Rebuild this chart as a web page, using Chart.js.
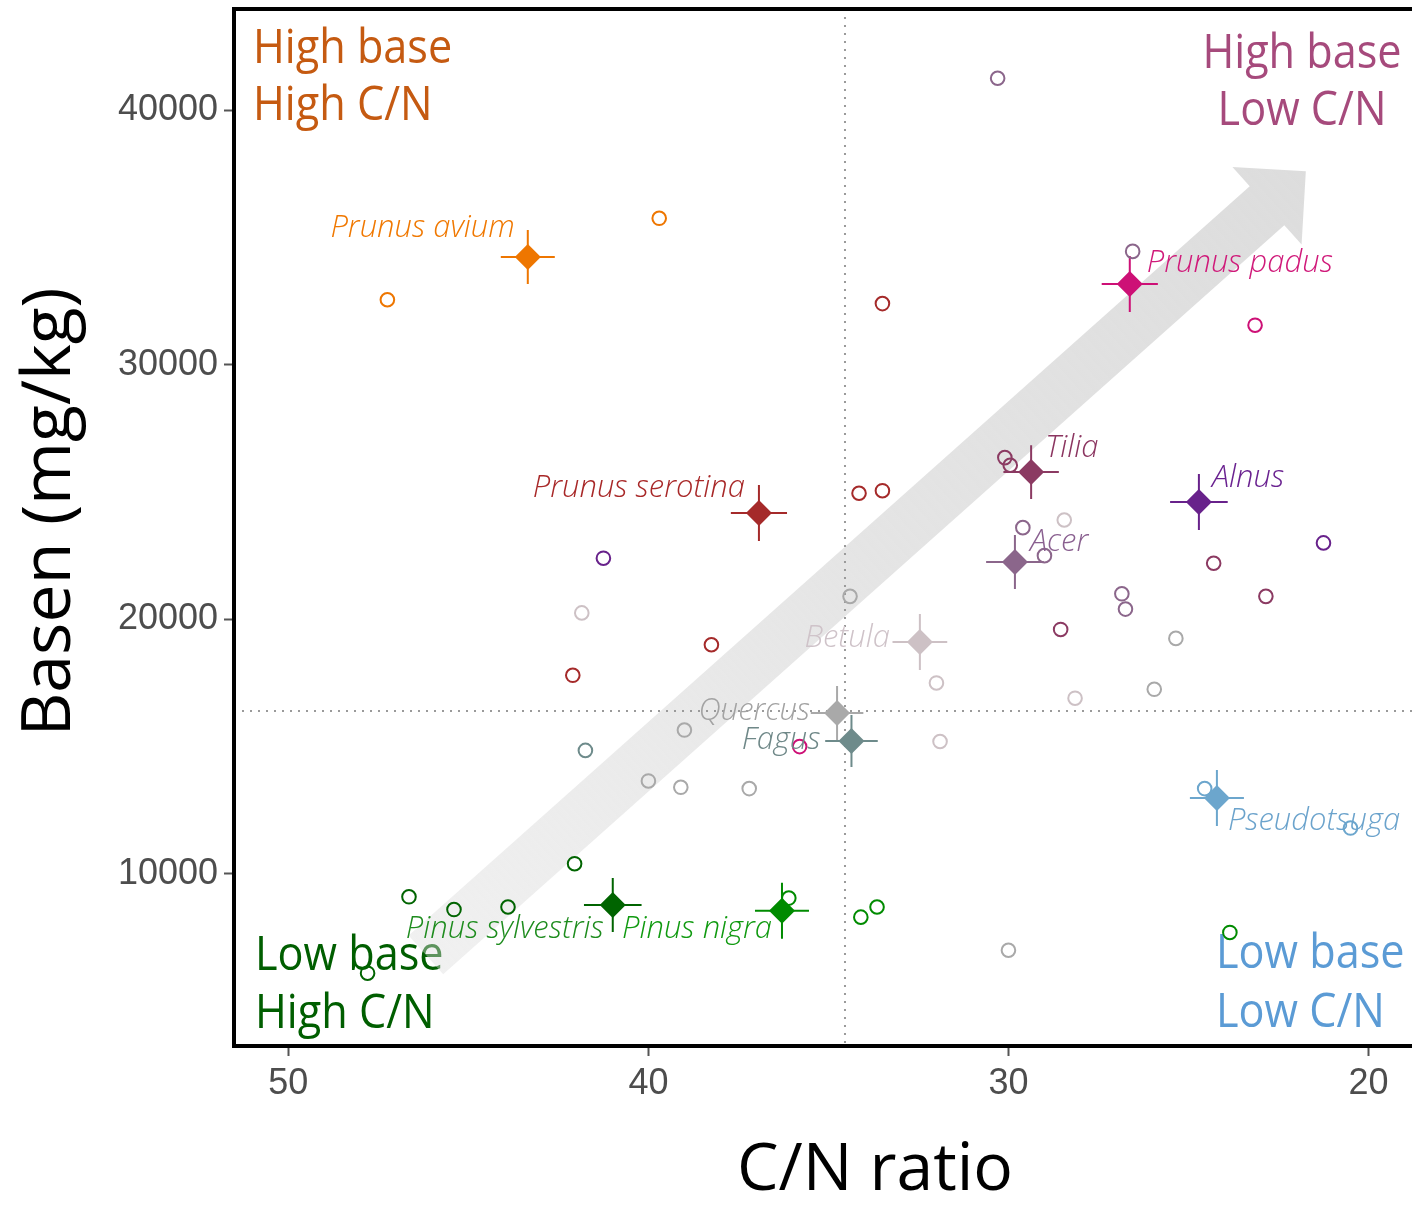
<!DOCTYPE html>
<html><head><meta charset="utf-8">
<script src="https://cdn.jsdelivr.net/npm/chart.js@4.4.1/dist/chart.umd.min.js"></script>
<style>
html,body{margin:0;padding:0;background:#fff;overflow:hidden;width:1412px;height:1205px}
#c{display:block}
</style></head><body>
<canvas id="c" width="1520" height="1205" style="width:1520px;height:1205px"></canvas>
<script>
// ---------- DATA ----------
const xTicks = [20, 30, 40, 50];
const yTicks = [10000, 20000, 30000, 40000];
const X_MIN = 15.875, X_MAX = 51.51, Y_MIN = 3240, Y_MAX = 43970;

const species = ['Prunus avium','Prunus padus','Prunus serotina','Tilia','Alnus','Acer','Betula','Quercus','Fagus','Pseudotsuga','Pinus sylvestris','Pinus nigra'];
const meanCN   = [43.35, 26.63, 36.93, 29.37, 24.71, 29.82, 32.46, 34.76, 34.36, 24.21, 40.99, 36.29];
const meanBase = [34230, 33170, 24170, 25780, 24610, 22250, 19110, 16320, 15220, 12980, 8780, 8550];
const errCN    = [0.75, 0.78, 0.78, 0.77, 0.80, 0.80, 0.76, 0.73, 0.73, 0.75, 0.80, 0.75];
const errBase  = [1060, 1100, 1100, 1060, 1100, 1060, 1100, 1060, 1020, 1100, 1060, 1100];

const obsCN = [
  [47.25, 39.7],
  [23.15, 35.8],
  [33.5, 34.15, 33.5, 38.25, 42.1],
  [30.1, 29.95, 24.3, 28.55, 22.85],
  [21.25, 41.25],
  [30.3, 26.55, 29.6, 29.0, 26.85, 26.75],
  [28.45, 41.85, 32.0, 28.15, 31.9],
  [34.4, 25.35, 25.95, 39.0, 40.0, 39.1, 37.2, 30.0],
  [41.75],
  [24.55, 20.5],
  [46.65, 45.4, 43.9, 42.05, 47.8],
  [36.1, 34.1, 33.65, 23.85]
];
const obsBase = [
  [32550, 35750],
  [31550, 15000],
  [32400, 24950, 25050, 19000, 17800],
  [26350, 26050, 22200, 19600, 20900],
  [23000, 22400],
  [41250, 34450, 23600, 22500, 21000, 20400],
  [23900, 20250, 17500, 16900, 15200],
  [20900, 19250, 17250, 15650, 13650, 13400, 13350, 7000],
  [14850],
  [13350, 11800],
  [9100, 8600, 8700, 10400, 6100],
  [9050, 8300, 8700, 7700]
];
const refCN = 34.54;
const refBase = 16400;
const arrowFrom = [46.18, 6820];
const arrowTo = [21.74, 37600];
const quadrantText = [['High base','High C/N'],['High base','Low C/N'],['Low base','High C/N'],['Low base','Low C/N']];
const xTitle = 'C/N ratio';
const yTitle = 'Basen (mg/kg)';

// ---------- STYLE ----------
const colors = ['#EE7600','#CD1076','#A52A2A','#8B3A62','#68228B','#8B668B','#CDC1C5','#A9A9A9','#6E8B8B','#6CA6CD','#006400','#008B00'];
const labelColors = ['#F07800','#D01A7A','#A82828','#8B3560','#6A2290','#8A6090','#CFC3C9','#A3A3A3','#6F8888','#6BA3CC','#1E8C1E','#109A10'];
const labelPos = [
  {a:'right',dx:-13,dy:-20},{a:'left',dx:17,dy:-12},{a:'right',dx:-14,dy:-16},{a:'left',dx:14,dy:-15},
  {a:'left',dx:13,dy:-15},{a:'left',dx:15,dy:-11},{a:'right',dx:-30,dy:5},{a:'right',dx:-27,dy:7},
  {a:'right',dx:-31,dy:8},{a:'left',dx:11,dy:32},{a:'right',dx:-9,dy:33},{a:'right',dx:-10,dy:27}
];
const quadStyle = [
  {c:'#C55A11', x:19, y:[54,111], a:'left'},
  {c:'#A64A7C', x:1068, y:[59,116], a:'center'},
  {c:'#005E00', x:21, y:[961,1019], a:'left'},
  {c:'#5B9BD5', x:982, y:[959,1018], a:'left'}
];
const FONT = '"Open Sans","Noto Sans","DejaVu Sans",sans-serif';

const decor = {
  id:'decor',
  beforeDatasetsDraw(chart){
    const {ctx, chartArea:ar, scales:{x,y}} = chart;
    ctx.save();
    ctx.font = '48px ' + FONT;
    ctx.textBaseline = 'alphabetic';
    quadrantText.forEach((lines,i)=>{
      const st = quadStyle[i];
      ctx.fillStyle = st.c; ctx.textAlign = st.a;
      lines.forEach((t,k)=>{
        ctx.save();
        ctx.translate(ar.left + st.x, ar.top + st.y[k]);
        ctx.scale(0.9,1);
        ctx.fillText(t,0,0);
        ctx.restore();
      });
    });
    ctx.restore();
    const p0 = {x:x.getPixelForValue(arrowFrom[0]), y:y.getPixelForValue(arrowFrom[1])};
    const p1 = {x:x.getPixelForValue(arrowTo[0]), y:y.getPixelForValue(arrowTo[1])};
    const dx = p1.x-p0.x, dy = p1.y-p0.y, L = Math.hypot(dx,dy);
    const ux = dx/L, uy = dy/L, nx = -uy, ny = ux;
    const sw = 26, hw = 52, hl = 52;
    const bx = p1.x - ux*hl, by = p1.y - uy*hl;
    const g = ctx.createLinearGradient(p0.x,p0.y,p1.x,p1.y);
    g.addColorStop(0,'rgba(220,220,220,0.42)');
    g.addColorStop(0.5,'rgba(220,220,220,0.75)');
    g.addColorStop(1,'rgba(220,220,220,0.98)');
    ctx.save();
    ctx.fillStyle = g;
    ctx.beginPath();
    ctx.moveTo(p0.x+nx*sw, p0.y+ny*sw);
    ctx.lineTo(bx+nx*sw, by+ny*sw);
    ctx.lineTo(bx+nx*hw, by+ny*hw);
    ctx.lineTo(p1.x, p1.y);
    ctx.lineTo(bx-nx*hw, by-ny*hw);
    ctx.lineTo(bx-nx*sw, by-ny*sw);
    ctx.lineTo(p0.x-nx*sw, p0.y-ny*sw);
    ctx.closePath();
    ctx.fill();
    ctx.restore();
    ctx.save();
    ctx.lineWidth = 2;
    species.forEach((s,i)=>{
      const px = x.getPixelForValue(meanCN[i]), py = y.getPixelForValue(meanBase[i]);
      const x1 = x.getPixelForValue(meanCN[i]-errCN[i]), x2 = x.getPixelForValue(meanCN[i]+errCN[i]);
      const y1 = y.getPixelForValue(meanBase[i]-errBase[i]), y2 = y.getPixelForValue(meanBase[i]+errBase[i]);
      ctx.strokeStyle = colors[i];
      ctx.beginPath();
      ctx.moveTo(x1,py); ctx.lineTo(x2,py);
      ctx.moveTo(px,y1); ctx.lineTo(px,y2);
      ctx.stroke();
    });
    ctx.restore();
  },
  afterDatasetsDraw(chart){
    const {ctx, scales:{x,y}} = chart;
    ctx.save();
    ctx.font = 'italic 300 31px ' + FONT;
    ctx.textBaseline = 'alphabetic';
    species.forEach((s,i)=>{
      const px = x.getPixelForValue(meanCN[i]), py = y.getPixelForValue(meanBase[i]);
      const lp = labelPos[i];
      ctx.fillStyle = labelColors[i];
      ctx.textAlign = lp.a;
      ctx.fillText(s, px+lp.dx, py+lp.dy);
    });
    ctx.restore();
  },
  afterDraw(chart){
    const {ctx, chartArea:ar} = chart;
    ctx.save();
    ctx.strokeStyle = '#000'; ctx.lineWidth = 4; ctx.lineJoin = 'miter';
    ctx.beginPath();
    ctx.moveTo(ar.right+20, ar.top);
    ctx.lineTo(ar.left, ar.top);
    ctx.lineTo(ar.left, ar.bottom);
    ctx.lineTo(ar.right+20, ar.bottom);
    ctx.stroke();
    ctx.fillStyle = '#000';
    ctx.textAlign = 'center'; ctx.textBaseline = 'alphabetic';
    ctx.font = '66px ' + FONT;
    ctx.fillText(xTitle, 875, 1190);
    ctx.translate(70, 512);
    ctx.rotate(-Math.PI/2);
    ctx.font = '68px ' + FONT;
    ctx.fillText(yTitle, 0, 0);
    ctx.restore();
  }
};

const datasets = [];
datasets.push({
  type:'scatter', label:'means',
  data: species.map((s,i)=>({x:meanCN[i], y:meanBase[i]})),
  pointStyle:'rectRot', pointRadius:13, pointHoverRadius:13,
  backgroundColor: colors, borderColor: colors, borderWidth:0, order:0
});
species.forEach((s,i)=>{
  datasets.push({
    type:'scatter', label:s,
    data: obsCN[i].map((v,j)=>({x:v, y:obsBase[i][j]})),
    pointStyle:'circle', pointRadius:6.8, pointHoverRadius:6.8, borderWidth:2,
    borderColor: colors[i], backgroundColor:'rgba(0,0,0,0)', order:1
  });
});
datasets.push({
  type:'line', label:'refCN',
  data:[{x:refCN, y:Y_MAX},{x:refCN, y:Y_MIN}],
  borderColor:'#9a9a9a', borderWidth:2, borderDash:[2,6], pointRadius:0, pointHoverRadius:0, fill:false, order:2
});
datasets.push({
  type:'line', label:'refBase',
  data:[{x:X_MAX, y:refBase},{x:X_MIN, y:refBase}],
  borderColor:'#9a9a9a', borderWidth:2, borderDash:[2,6], pointRadius:0, pointHoverRadius:0, fill:false, order:2
});

function zeroPad(s){ s.paddingTop = 0; s.paddingBottom = 0; s.paddingLeft = 0; s.paddingRight = 0; }

new Chart(document.getElementById('c'), {
  type:'scatter',
  data:{datasets},
  options:{
    responsive:false, animation:false, devicePixelRatio:1, events:[],
    layout:{autoPadding:false, padding:{left:0, top:9, right:3, bottom:0}},
    plugins:{legend:{display:false}, tooltip:{enabled:false}},
    scales:{
      x:{
        type:'linear', reverse:true, min:X_MIN, max:X_MAX,
        afterBuildTicks: s=>{ s.ticks = xTicks.map(v=>({value:v})); },
        afterFit: s=>{ s.height = 1205 - 1046; zeroPad(s); },
        ticks:{font:{family:'"Liberation Sans Narrow","Liberation Sans",Arial,sans-serif', size:36}, color:'#4d4d4d', padding:6, maxRotation:0, autoSkip:false, callback:v=>String(v)},
        grid:{display:true, drawOnChartArea:false, drawTicks:true, tickLength:10, tickColor:'#555', tickWidth:2, color:'#555'},
        border:{display:false}
      },
      y:{
        type:'linear', min:Y_MIN, max:Y_MAX,
        afterBuildTicks: s=>{ s.ticks = yTicks.map(v=>({value:v})); },
        afterFit: s=>{ s.width = 234; zeroPad(s); },
        ticks:{font:{family:'"Liberation Sans",Arial,sans-serif', size:36}, color:'#4d4d4d', padding:6, autoSkip:false, callback:v=>String(v)},
        grid:{display:true, drawOnChartArea:false, drawTicks:true, tickLength:10, tickColor:'#555', tickWidth:2, color:'#555'},
        border:{display:false}
      }
    }
  },
  plugins:[decor]
});
</script>
</body></html>
